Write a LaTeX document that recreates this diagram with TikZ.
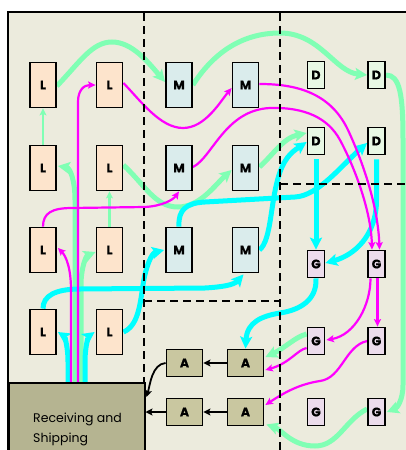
\documentclass[tikz,border=0pt]{standalone}
\usepackage{fontspec}
\setmainfont{Poppins}
\newfontfamily\lblfont{Poppins}[FakeBold=0.6]
\usetikzlibrary{arrows.meta,calc}
\definecolor{bgbeige}{RGB}{236,235,221}
\definecolor{lfill}{RGB}{253,228,204}
\definecolor{mfill}{RGB}{218,236,236}
\definecolor{dfill}{RGB}{232,248,228}
\definecolor{gfill}{RGB}{236,220,236}
\definecolor{afill}{RGB}{201,199,160}
\definecolor{rsfill}{RGB}{181,180,145}
\definecolor{flowgreen}{RGB}{128,255,180}
\definecolor{flowcyan}{RGB}{0,255,255}
\definecolor{flowmag}{RGB}{255,0,255}
\pgfdeclarelayer{bg}
\pgfdeclarelayer{conn}
\pgfsetlayers{bg,conn,main}
\begin{document}
\begin{tikzpicture}[x=1pt,y=-1pt,
  box/.style={draw=black, line width=1.8pt, inner sep=0pt, font=\lblfont\bfseries\fontsize{12.5}{13}\selectfont},
  lbox/.style={box, fill=lfill, minimum width=26pt, minimum height=45pt},
  mbox/.style={box, fill=mfill, minimum width=26pt, minimum height=45pt},
  dbox/.style={box, fill=dfill, minimum width=17pt, minimum height=27pt},
  gbox/.style={box, fill=gfill, minimum width=17pt, minimum height=27pt},
  abox/.style={box, fill=afill, minimum width=36pt, minimum height=27pt},
  zone/.style={draw=black, line width=2pt, dash pattern=on 8pt off 5pt},
  gflow/.style={draw=flowgreen, line width=5pt, -{Stealth[length=12pt,width=12pt,inset=2.5pt]}},
  cflow/.style={draw=flowcyan, line width=5pt, -{Stealth[length=12pt,width=12pt,inset=2.5pt]}},
  tgflow/.style={draw=flowgreen, line width=2.5pt, -{Stealth[length=7pt,width=7pt,inset=1.5pt]}},
  pflow/.style={draw=flowmag, line width=2.2pt, -{Stealth[length=7.5pt,width=7pt,inset=1.5pt]}},
  kflow/.style={draw=black, line width=1.8pt, -{Stealth[length=7pt,width=7pt,inset=1.5pt]}}
]
\useasboundingbox (0,0) rectangle (406,450);
\begin{pgfonlayer}{bg}
  \fill[white] (0,0) rectangle (406,450);
  \fill[bgbeige] (8,12) rectangle (412,456);
  \draw[line width=1.5pt] (8,456) -- (8,12) -- (412,12);
\end{pgfonlayer}
% zone dashed lines
\draw[zone] (144,13) -- (144,382);
\draw[zone] (280,13) -- (280,452);
\draw[zone] (144,301) -- (280,301);
\draw[zone] (280,184) -- (408,184);
% receiving and shipping
\node[draw=black, line width=1.5pt, fill=rsfill, anchor=north west, minimum width=136pt, minimum height=75pt, inner sep=0pt] (RS) at (8,382) {};
\node[anchor=north west, align=left, inner sep=0pt, font=\fontsize{12.5}{20}\selectfont] (RSlabel) at (33,412.5) {Receiving and\\Shipping};
% L nodes
\node[lbox] (L11) at (43,85) {L};
\node[lbox] (L12) at (109.5,85) {L};
\node[lbox] (L21) at (43,168) {L};
\node[lbox] (L22) at (109.5,168) {L};
\node[lbox] (L31) at (43,250) {L};
\node[lbox] (L32) at (109.5,250) {L};
\node[lbox] (L41) at (43,332) {L};
\node[lbox] (L42) at (109.5,332) {L};
% M nodes
\node[mbox] (M11) at (179,85) {M};
\node[mbox] (M12) at (245.5,85) {M};
\node[mbox] (M21) at (179,168) {M};
\node[mbox] (M22) at (245.5,168) {M};
\node[mbox] (M31) at (179,250) {M};
\node[mbox] (M32) at (245.5,250) {M};
% D nodes
\node[dbox] (D11) at (316,75) {D};
\node[dbox] (D12) at (376.5,75) {D};
\node[dbox] (D21) at (316,141) {D};
\node[dbox] (D22) at (376.5,141) {D};
% G nodes
\node[gbox] (G11) at (316,264) {G};
\node[gbox] (G12) at (376.5,264) {G};
\node[gbox] (G21) at (316,341) {G};
\node[gbox] (G22) at (376.5,341) {G};
\node[gbox] (G31) at (316,412) {G};
\node[gbox] (G32) at (376.5,412) {G};
% A nodes
\node[abox] (A11) at (184.5,363) {A};
\node[abox] (A12) at (245.5,363) {A};
\node[abox] (A21) at (184.5,412) {A};
\node[abox] (A22) at (245.5,412) {A};

\begin{pgfonlayer}{conn}
% green flows
\draw[gflow] ($(L11.east)+(0,1)$) .. controls (80,62) and (92,42) .. (112,42) .. controls (132,42) and (148,62) .. ($(M11.west)+(0,-3)$);
\draw[gflow] (M11.east) .. controls (212,55) and (240,33) .. (280,33) .. controls (320,33) and (335,72) .. (D12.west);
\draw[gflow] (D12.east) .. controls (400,75) and (403,95) .. (403,140) -- (403,385) .. controls (403,400) and (397,408) .. ($(G32.east)+(1,0)$);
\draw[gflow] ($(G32.west)+(0,-3)$) .. controls (345,420) and (338,446) .. (315,446) .. controls (292,446) and (282,430) .. ($(A22.south east)+(2,-2)$);
\draw[gflow] ($(G21.west)+(0,-7)$) .. controls (295,337) and (285,348) .. ($(A12.east)+(1,-6)$);
\draw[gflow] ($(RS.north west)+(67,0)$) -- (75,200) .. controls (75,180) and (70,168) .. ($(L21.east)+(1,-2)$);
\draw[gflow] ($(RS.north west)+(73,0)$) -- (81,285) .. controls (81,268) and (86,256) .. ($(L32.west)+(0,2)$);
\draw[tgflow] (L21.north) -- (L11.south);
\draw[tgflow] (L32.north) -- (L22.south);
\draw[gflow] ($(L22.east)+(0,-3)$) .. controls (145,185) and (155,207) .. (178,207) .. controls (200,207) and (215,185) .. ($(M22.west)+(0,2)$);
\draw[gflow] ($(M22.east)+(0,-1)$) .. controls (273,155) and (283,138) .. ($(D21.west)+(0,-8)$);
% cyan flows
\draw[cflow] ($(RS.north west)+(60,0)$) -- (68,362) .. controls (68,345) and (64,336) .. ($(L41.east)+(1,0)$);
\draw[cflow] ($(RS.north west)+(77,0)$) -- (85,362) .. controls (85,345) and (89,336) .. ($(L42.west)+(-1,0)$);
\draw[cflow] (L41.north) .. controls (43,296) and (55,289) .. (80,289) -- (205,288) .. controls (222,287) and (234,285) .. ($(M32.south)+(-2,1)$);
\draw[cflow] (L42.east) .. controls (138,326) and (140,305) .. (143,285) .. controls (146,265) and (152,253) .. ($(M31.west)+(-1,0)$);
\draw[cflow] (M31.north) .. controls (178,210) and (186,203) .. (205,202) -- (295,197) .. controls (318,196) and (342,165) .. ($(D22.west)+(0,2)$);
\draw[cflow] (M32.east) .. controls (272,240) and (270,200) .. (280,172) .. controls (286,155) and (295,150) .. ($(D21.west)+(0,1)$);
\draw[cflow] ($(D21.south)+(0,4)$) -- (G11.north);
\draw[cflow] ($(D22.south)+(0,4)$) -- (376.5,200) .. controls (376.5,235) and (355,255) .. ($(G11.east)+(0,-1)$);
\draw[cflow] (G11.south) .. controls (317,300) and (300,310) .. (280,313) .. controls (262,316) and (247,322) .. (A12.north);
% magenta flows
\draw[pflow] ($(RS.north west)+(70,0)$) -- (78,102) .. controls (78,90) and (84,85) .. (L12.west);
\draw[pflow] ($(RS.north west)+(63,0)$) -- (71,290) .. controls (71,268) and (66,256) .. ($(L31.east)+(1,-2)$);
\draw[pflow] (L31.north) .. controls (43,213) and (52,208) .. (72,208) -- (145,207) .. controls (162,206) and (173,200) .. (M21.south);
\draw[pflow] ($(L12.east)+(0,-2)$) .. controls (140,100) and (160,128) .. (183,128) .. controls (205,128) and (220,102) .. ($(M12.west)+(0,3)$);
\draw[pflow] ($(M12.east)+(0,-1)$) .. controls (295,84) and (330,92) .. (348,130) .. controls (362,160) and (378,205) .. ($(G12.north)+(3,0)$);
\draw[pflow] ($(M21.east)+(0,-1)$) .. controls (212,158) and (225,110) .. (270,108) .. controls (305,107) and (328,118) .. (340,140) .. controls (354,166) and (371,210) .. ($(G12.north)+(-4.5,0)$);
\draw[pflow] ($(G12.south)+(-6,0)$) .. controls (370.5,305) and (355,335) .. ($(G21.east)+(1,-1)$);
\draw[pflow] ($(G12.south)+(1,0)$) -- ($(G22.north)+(1,0)$);
\draw[pflow] ($(G21.west)+(0,7)$) .. controls (297,350) and (290,363) .. ($(A12.east)+(1,7)$);
\draw[pflow] (G22.west) .. controls (345,346) and (342,378) .. (320,381) .. controls (300,384) and (285,392) .. ($(A22.east)+(1,-7)$);
% black flows
\draw[kflow] (A12.west) -- (A11.east);
\draw[kflow] (A22.west) -- (A21.east);
\draw[kflow] (A21.west) -- (A21.west -| RS.east);
\draw[kflow] (A11.west) .. controls (152,364) and (150,385) .. ($(RS.north east)+(1,15)$);
\end{pgfonlayer}
\end{tikzpicture}
\end{document}
